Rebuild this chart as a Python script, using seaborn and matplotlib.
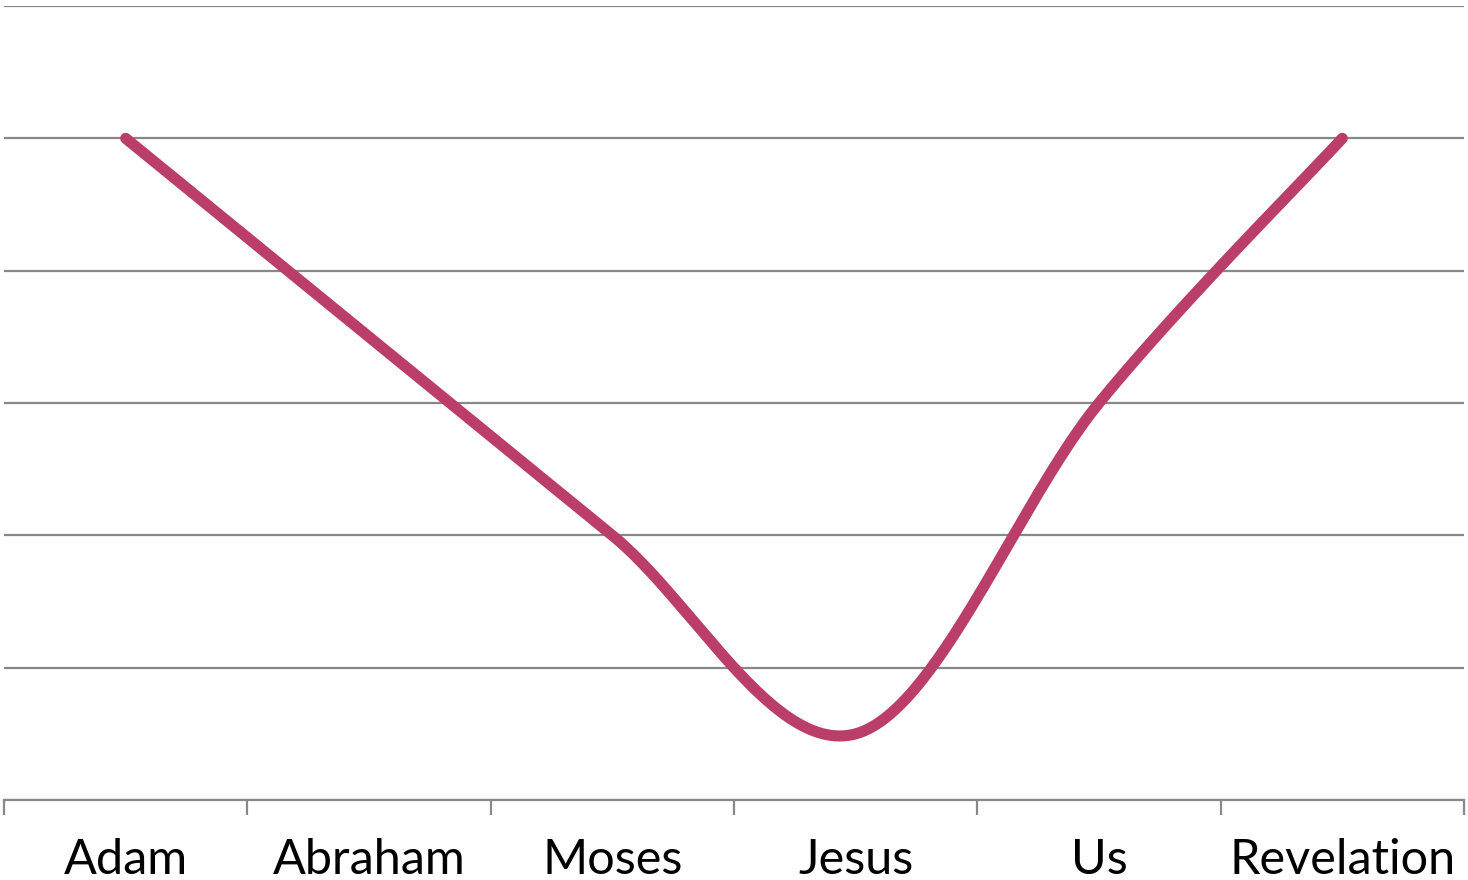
import numpy as np
import pandas as pd
import seaborn as sns
import matplotlib.pyplot as plt

sns.set_style("white")
plt.rcParams["font.family"] = ["Lato", "DejaVu Sans"]

# Data
categories = ["Adam", "Abraham", "Moses", "Jesus", "Us", "Revelation"]
values = [5, 3.5, 2, 0.5, 3, 5]

line_color = "#BA3E69"
grid_color = "#888888"


def smooth_curve(xs, ys, n=60):
    # Catmull-Rom style Bezier smoothing (like spreadsheet "smoothed line")
    xs = np.asarray(xs, float)
    ys = np.asarray(ys, float)
    px = np.concatenate([[xs[0]], xs, [xs[-1]]])
    py = np.concatenate([[ys[0]], ys, [ys[-1]]])
    t = np.linspace(0, 1, n)
    out_x, out_y = [], []
    for i in range(1, len(px) - 2):
        p0 = np.array([px[i], py[i]])
        p3 = np.array([px[i + 1], py[i + 1]])
        c1 = p0 + (np.array([px[i + 1], py[i + 1]]) - np.array([px[i - 1], py[i - 1]])) / 6
        c2 = p3 - (np.array([px[i + 2], py[i + 2]]) - np.array([px[i], py[i]])) / 6
        b = ((1 - t) ** 3)[:, None] * p0 + (3 * (1 - t) ** 2 * t)[:, None] * c1 \
            + (3 * (1 - t) * t ** 2)[:, None] * c2 + (t ** 3)[:, None] * p3
        out_x.extend(b[:, 0])
        out_y.extend(b[:, 1])
    return np.array(out_x), np.array(out_y)


sx, sy = smooth_curve(range(len(categories)), values)
df = pd.DataFrame({"x": sx, "y": sy})

fig = plt.figure(figsize=(14.68, 8.8), dpi=100)
ax = fig.add_axes([4 / 1468, 80 / 880, 1460 / 1468, 794 / 880])

sns.lineplot(data=df, x="x", y="y", sort=False, estimator=None, ax=ax,
             color=line_color, linewidth=8, solid_capstyle="round", zorder=3)

ax.set_xlim(-0.5, len(categories) - 0.5)
ax.set_ylim(0, 6)
ax.set_yticks(range(0, 7))
ax.set_yticklabels([])
ax.yaxis.grid(True, color=grid_color, linewidth=1.6)
ax.tick_params(axis="y", length=0)

ax.set_xticks(range(len(categories)))
ax.set_xticklabels(categories, fontsize=35, color="black")
ax.set_xticks(np.arange(-0.5, len(categories), 1), minor=True)
ax.tick_params(axis="x", which="major", bottom=False, pad=24)
ax.tick_params(axis="x", which="minor", bottom=True, length=11, width=1.6,
               color=grid_color, direction="out")

for side in ["top", "right", "left"]:
    ax.spines[side].set_visible(False)
ax.spines["bottom"].set_color(grid_color)
ax.spines["bottom"].set_linewidth(1.6)

ax.set_xlabel("")
ax.set_ylabel("")

fig.savefig("out.png", dpi=100)
plt.close(fig)
